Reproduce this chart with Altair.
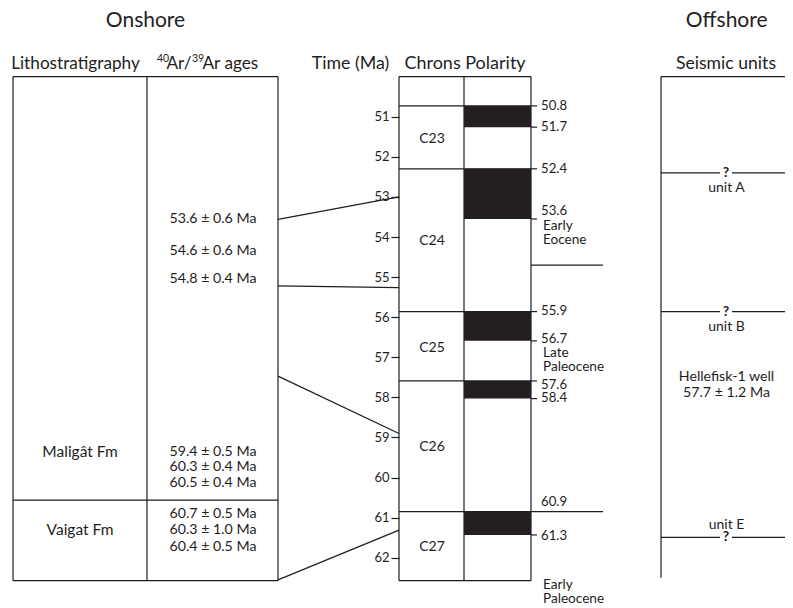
import altair as alt
import pandas as pd

# ------------------------------------------------------------------ data
time_ticks = [51, 52, 53, 54, 55, 56, 57, 58, 59, 60, 61, 62]

chrons = ["C23", "C24", "C25", "C26", "C27"]
chron_label_ma = [51.56, 54.10, 56.77, 59.23, 61.72]
chron_tops = [50.73, 52.30, 55.86, 57.59, 60.85]

normal_top = [50.73, 52.30, 55.86, 57.59, 60.85]
normal_base = [51.26, 53.55, 56.59, 58.03, 61.43]

boundary_labels = ["50.8", "51.7", "52.4", "53.6", "55.9", "56.7", "57.6", "58.4", "60.9", "61.3"]
boundary_label_ma = [50.73, 51.26, 52.30, 53.34, 55.84, 56.55, 57.69, 58.02, 60.60, 61.46]
boundary_tick_ma = [50.73, 51.26, 52.30, 53.55, 55.86, 56.59, 57.59, 58.03, 61.43]

epoch_words = ["Early", "Eocene", "Late", "Paleocene", "Early", "Paleocene"]
epoch_word_ma = [53.73, 54.08, 56.90, 57.25, 62.68, 63.04]
epoch_boundaries = [54.70, 60.85]

ages_text = ["53.6 \u00b1 0.6 Ma", "54.6 \u00b1 0.6 Ma", "54.8 \u00b1 0.4 Ma",
             "59.4 \u00b1 0.5 Ma", "60.3 \u00b1 0.4 Ma", "60.5 \u00b1 0.4 Ma",
             "60.7 \u00b1 0.5 Ma", "60.3 \u00b1 1.0 Ma", "60.4 \u00b1 0.5 Ma"]
ages_row_ma = [53.56, 54.34, 55.05, 59.35, 59.73, 60.14, 60.92, 61.31, 61.72]

formations = ["Malig\u00e2t Fm", "Vaigat Fm"]
formation_label_ma = [59.36, 61.31]
formation_contact_ma = 60.56

tie_from_ma = [53.56, 55.22, 57.47, 62.55]
tie_to_ma = [53.00, 55.26, 58.90, 61.31]

seismic_units = ["unit A", "unit B", "unit E"]
seismic_horizon_ma = [52.40, 55.86, 61.49]
seismic_label_ma = [52.79, 56.24, 61.18]
well_text = ["Hellefisk-1 well", "57.7 \u00b1 1.2 Ma"]
well_text_ma = [57.48, 57.90]

column_top_ma = 50.0
column_base_ma = 62.57
seismic_base_ma = 62.50

# ------------------------------------------------------------------ layout
X_DOMAIN = [8, 785]
Y_DOMAIN = [48.289, 63.252]
L = dict(litho_l=13, litho_r=147, ages_r=278, chron_l=399, pol_l=464, pol_r=531,
         tick_r=537, epoch_r=603, seis_l=661, seis_r=792, q_l=720, q_r=732)
CX = dict(onshore=145.5, offshore=726.7, litho=80, ages=213, chron=432, seis=726.5,
          timehdr=350.5, chronhdr=465, seishdr=726, litho_hdr=75.5)
HEAD_MA = 48.61
SUB_MA = 49.686
FONT = "Lato"
INK = "#1e1e1e"

y_axis = alt.Axis(
    values=time_ticks, offset=-(L["chron_l"] - X_DOMAIN[0]), domain=False, grid=False,
    tickSize=8, tickColor=INK, tickWidth=1.2, labelFont=FONT, labelFontSize=13,
    labelColor=INK, labelPadding=2, title=None, labelOverlap=False)

# ------------------------------------------------------------------ line segments
segs = []
def seg(x, x2, y, y2):
    segs.append(dict(x=x, x2=x2, y=y, y2=y2))

# onshore box
seg(L["litho_l"], L["ages_r"], column_top_ma, column_top_ma)
seg(L["litho_l"], L["ages_r"], column_base_ma, column_base_ma)
for xv in (L["litho_l"], L["litho_r"], L["ages_r"]):
    seg(xv, xv, column_top_ma, column_base_ma)
seg(L["litho_l"], L["ages_r"], formation_contact_ma, formation_contact_ma)
# chron / polarity column
seg(L["chron_l"], L["pol_r"], column_top_ma, column_top_ma)
seg(L["chron_l"], L["pol_r"], column_base_ma, column_base_ma)
for xv in (L["chron_l"], L["pol_l"], L["pol_r"]):
    seg(xv, xv, column_top_ma, column_base_ma)
for m in chron_tops:
    right = L["epoch_r"] if m in epoch_boundaries else L["pol_r"]
    seg(L["chron_l"], right, m, m)
for m in epoch_boundaries:
    if m not in chron_tops:
        seg(L["pol_r"], L["epoch_r"], m, m)
for m in boundary_tick_ma:
    seg(L["pol_r"], L["tick_r"], m, m)
# tie lines
for a, b in zip(tie_from_ma, tie_to_ma):
    seg(L["ages_r"], L["chron_l"], a, b)
# seismic column
seg(L["seis_l"], L["seis_r"], column_top_ma, column_top_ma)
for xv in (L["seis_l"], L["seis_r"]):
    seg(xv, xv, column_top_ma, seismic_base_ma)
for m in seismic_horizon_ma:
    seg(L["seis_l"], L["q_l"], m, m)
    seg(L["q_r"], L["seis_r"], m, m)

seg_df = pd.DataFrame(segs)

xs = alt.Scale(domain=X_DOMAIN, nice=False, zero=False)
ys = alt.Scale(domain=Y_DOMAIN, nice=False, zero=False, reverse=True)

lines = alt.Chart(seg_df).mark_rule(color=INK, strokeWidth=1.2).encode(
    x=alt.X("x:Q", scale=xs, axis=None),
    x2="x2:Q",
    y=alt.Y("y:Q", scale=ys, axis=y_axis),
    y2="y2:Q",
)

bar_df = pd.DataFrame(dict(y=normal_top, base=normal_base,
                           x=[L["pol_l"]] * len(normal_top), x2=[L["pol_r"]] * len(normal_top)))
bars = alt.Chart(bar_df).mark_rect(color="#231f20").encode(
    x=alt.X("x:Q", scale=xs, axis=None), x2="x2:Q",
    y=alt.Y("y:Q", scale=ys, axis=y_axis), y2="base:Q")

# ------------------------------------------------------------------ text
center_rows = []
def ctext(x, y, t, s):
    center_rows.append(dict(x=x, y=y, t=t, s=s))

ctext(CX["onshore"], HEAD_MA, "Onshore", 21)
ctext(CX["offshore"], HEAD_MA, "Offshore", 21)
ctext(CX["litho_hdr"], SUB_MA, "Lithostratigraphy", 17.2)
ctext(CX["timehdr"], SUB_MA, "Time (Ma)", 17.8)
ctext(CX["chronhdr"], SUB_MA, "Chrons Polarity", 18)
ctext(CX["seishdr"], SUB_MA, "Seismic units", 17.6)
for t, m in zip(ages_text, ages_row_ma):
    ctext(CX["ages"], m, t, 14.2)
for t, m in zip(formations, formation_label_ma):
    ctext(CX["litho"], m, t, 15.5)
for t, m in zip(chrons, chron_label_ma):
    ctext(CX["chron"], m, t, 14)
for t, m in zip(seismic_units, seismic_label_ma):
    ctext(CX["seis"], m, t, 14)
for t, m in zip(well_text, well_text_ma):
    ctext(CX["seis"], m, t, 14.2)

center_df = pd.DataFrame(center_rows)
ctext_layer = alt.Chart(center_df).mark_text(align="center", baseline="middle", font=FONT, color=INK).encode(
    x=alt.X("x:Q", scale=xs, axis=None), y=alt.Y("y:Q", scale=ys, axis=y_axis),
    text="t:N", size=alt.Size("s:Q", scale=None, legend=None))

q_df = pd.DataFrame(dict(x=[(L["q_l"] + L["q_r"]) / 2] * len(seismic_horizon_ma),
                         y=seismic_horizon_ma, t=["?"] * len(seismic_horizon_ma)))
q_layer = alt.Chart(q_df).mark_text(align="center", baseline="middle", font=FONT, fontSize=14,
                                    fontWeight="bold", color=INK).encode(
    x=alt.X("x:Q", scale=xs, axis=None), y=alt.Y("y:Q", scale=ys, axis=y_axis), text="t:N")

left_rows = []
for t, m in zip(boundary_labels, boundary_label_ma):
    left_rows.append(dict(x=541, y=m, t=t, s=13.2))
for t, m in zip(epoch_words, epoch_word_ma):
    left_rows.append(dict(x=543, y=m, t=t, s=13.6))
# 40Ar/39Ar header pieces
hdr_pieces = ["40", "Ar/", "39", "Ar ages"]
hdr_x = [157, 166.5, 192, 202.5]
hdr_s = [10.5, 17.2, 10.5, 17.2]
hdr_y = [49.57, SUB_MA, 49.57, SUB_MA]
for t, xv, s, yv in zip(hdr_pieces, hdr_x, hdr_s, hdr_y):
    left_rows.append(dict(x=xv, y=yv, t=t, s=s))
left_df = pd.DataFrame(left_rows)
ltext_layer = alt.Chart(left_df).mark_text(align="left", baseline="middle", font=FONT, color=INK).encode(
    x=alt.X("x:Q", scale=xs, axis=None), y=alt.Y("y:Q", scale=ys, axis=y_axis),
    text="t:N", size=alt.Size("s:Q", scale=None, legend=None))

chart = alt.layer(lines, bars, ctext_layer, q_layer, ltext_layer).properties(
    width=777, height=600, autosize="none", padding=0, background="white"
).configure_view(stroke=None)

chart.save("out.html", embed_options={"renderer": "svg", "actions": False})
